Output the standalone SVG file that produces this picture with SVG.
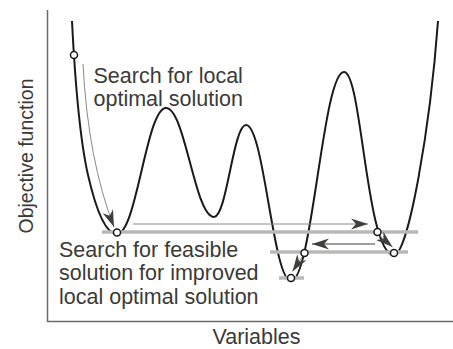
<svg xmlns="http://www.w3.org/2000/svg" width="453" height="349" viewBox="0 0 453 349">
  <style>
    .label { font-family: "Liberation Sans", Arial, sans-serif; font-size: 21.5px; fill: #3a3b38; }
    .axis-label { font-size: 19.5px; }
    .axis { stroke: #6b6b6b; stroke-width: 1.5; fill: none; }
    .curve { stroke: #1a1a1a; stroke-width: 2; fill: none; stroke-linejoin: round; }
    .level { stroke: #b8b8b8; stroke-width: 3.5; fill: none; }
    .thin { stroke: #8a8a8a; stroke-width: 1; fill: none; }
    .dark { stroke: #3d403b; stroke-width: 1.2; fill: none; }
    .pt { fill: #ffffff; stroke: #1a1a1a; stroke-width: 1.5; }
  </style>
  <defs>
    <marker id="head" markerUnits="userSpaceOnUse" markerWidth="20" markerHeight="14" refX="0" refY="0" viewBox="-18 -7 19 14" orient="auto">
      <path d="M0,0 L-17,-5.5 L-12,0 L-17,5.5 Z" fill="#3d403b"/>
    </marker>
  </defs>
  <rect width="453" height="349" fill="#ffffff"/>

  <!-- axes -->
  <g id="axes">
    <path class="axis" d="M47.5,10 V321.5 H453"/>
  </g>

  <!-- objective function landscape -->
  <g id="landscape">
    <path class="curve" d="M72,21 C75,80 80,140 88,175 C96,210 106,234 117,234 C136.6,234 146.4,108 166,108 C185.2,108 194.8,217 214,217 C226.8,217 233.2,125 246,125 C264,125 273,281 291,281 C312.2,281 322.8,72 344,72 C362,72 366,255 394,255 C408,255 430,130 438,21"/>
  </g>

  <!-- objective levels -->
  <g id="levels">
    <line class="level" x1="102" y1="232" x2="418" y2="232"/>
    <line class="level" x1="270" y1="252" x2="408" y2="252"/>
    <line class="level" x1="279" y1="278" x2="304" y2="278"/>
  </g>

  <!-- search moves -->
  <g id="connectors">
    <path class="thin" d="M83,64 Q88,160 114,227" marker-end="url(#head)"/>
    <line class="thin" x1="133" y1="224" x2="368" y2="224" marker-end="url(#head)"/>
    <line class="dark" x1="375" y1="244" x2="312" y2="244" marker-end="url(#head)"/>
    <line class="thin" x1="380" y1="236" x2="392.5" y2="247" marker-end="url(#head)"/>
    <line class="thin" x1="302" y1="257" x2="292.5" y2="271.5" marker-end="url(#head)"/>
  </g>

  <!-- solution points -->
  <g id="points">
    <circle id="start" class="pt" cx="74" cy="55" r="3.5"/>
    <circle id="local1" class="pt" cx="117" cy="232.5" r="3.5"/>
    <circle id="feasible1" class="pt" cx="377.5" cy="232" r="3.5"/>
    <circle id="local2" class="pt" cx="394" cy="253" r="3.5"/>
    <circle id="feasible2" class="pt" cx="304.5" cy="253" r="3.5"/>
    <circle id="local3" class="pt" cx="291" cy="278" r="3.5"/>
  </g>

  <!-- labels -->
  <g id="label-local">
    <text class="label" x="93.5" y="82.5">Search for local</text>
    <text class="label" x="93.5" y="106">optimal solution</text>
  </g>
  <g id="label-feasible">
    <text class="label" x="59" y="256.5">Search for feasible</text>
    <text class="label" x="59" y="280">solution for improved</text>
    <text class="label" x="59" y="304">local optimal solution</text>
  </g>
  <g id="label-y">
    <text class="label axis-label" text-anchor="middle" transform="translate(32.5,156) rotate(-90)">Objective function</text>
  </g>
  <g id="label-x">
    <text class="label" text-anchor="middle" x="256.5" y="343.5">Variables</text>
  </g>
</svg>
